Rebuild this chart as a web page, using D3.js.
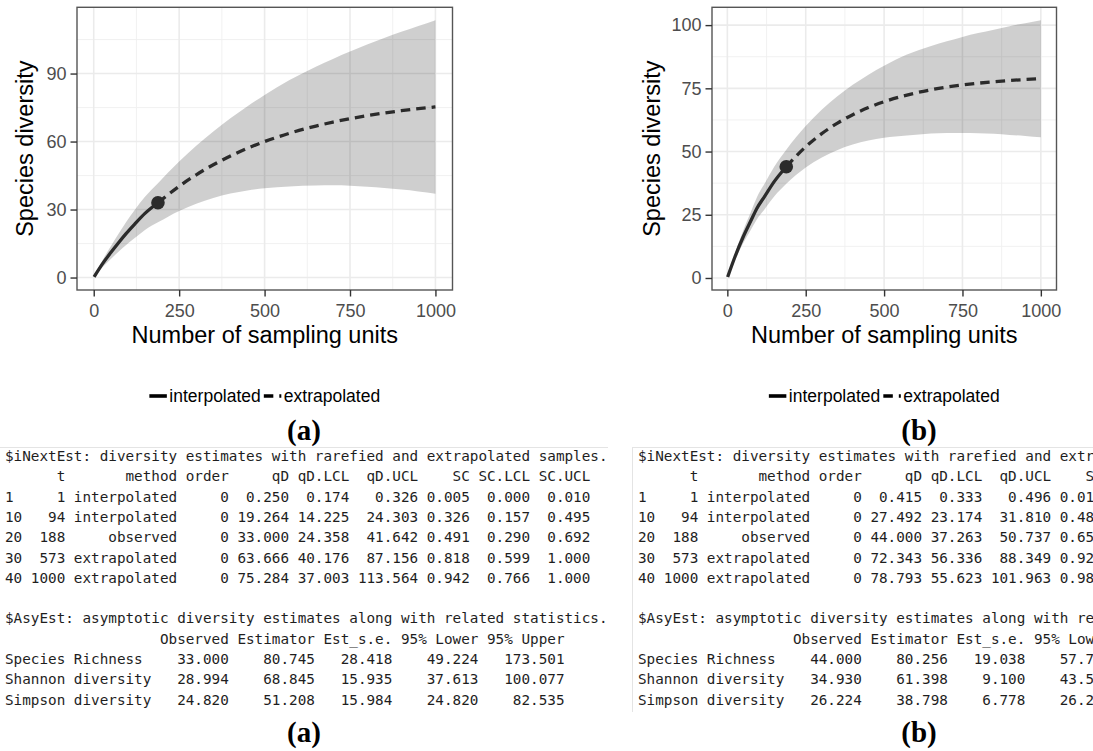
<!DOCTYPE html>
<html lang="en">
<head>
<meta charset="utf-8" />
<title>Species diversity: interpolated / extrapolated</title>
<script src="https://cdn.jsdelivr.net/npm/d3@7"></script>
<style>
  body { margin: 0; background: #fff; }
  svg text { font-family: "Liberation Sans", Arial, sans-serif; }
  .mono { font-family: "DejaVu Sans Mono", monospace; font-size: 14.3px; fill: #1e1e1e; white-space: pre; }
  .cap { font-family: "Liberation Serif", "Times New Roman", serif; font-weight: bold; font-size: 29px; fill: #000; }
</style>
</head>
<body>
<svg id="fig" width="1093" height="751"></svg>
<script>
const tVals = [1, 25, 50, 75, 94, 120, 150, 188, 250, 300, 350, 400, 450, 500, 573, 650, 700, 750, 800, 850, 900, 950, 1000];
const obsT = 188;

// (a)
const qdA  = [0.25, 5.9, 11.0, 15.8, 19.26, 23.6, 28.3, 33.0, 40.28, 45.34, 49.76, 53.63, 57.02, 59.99, 63.67, 66.84, 68.57, 70.10, 71.43, 72.59, 73.61, 74.50, 75.28];
const lclA = [0.17, 4.4, 8.2, 11.7, 14.22, 17.4, 21.0, 24.36, 29.38, 32.54, 35.06, 37.03, 38.42, 39.39, 40.18, 40.64, 40.67, 40.50, 40.03, 39.49, 38.81, 38.00, 37.00];
const uclA = [0.33, 7.4, 13.8, 19.9, 24.30, 29.8, 35.6, 41.64, 51.18, 58.14, 64.46, 70.23, 75.62, 80.59, 87.16, 93.04, 96.47, 99.70, 102.83, 105.69, 108.41, 111.00, 113.56];

// (b)
const qdB  = [0.415, 8.6, 16.1, 22.6, 27.49, 32.5, 38.2, 44.0, 51.88, 56.98, 61.15, 64.58, 67.39, 69.70, 72.34, 74.42, 75.47, 76.33, 77.03, 77.61, 78.09, 78.48, 78.79];
const lclB = [0.33, 7.2, 13.6, 19.1, 23.17, 27.4, 32.3, 37.26, 43.68, 47.58, 50.55, 52.78, 54.39, 55.50, 56.34, 57.12, 57.37, 57.33, 57.23, 57.01, 56.59, 56.18, 55.62];
const uclB = [0.50, 10.0, 18.6, 26.1, 31.81, 37.6, 44.1, 50.74, 60.08, 66.38, 71.75, 76.38, 80.39, 83.90, 88.34, 91.72, 93.57, 95.33, 96.83, 98.21, 99.59, 100.78, 101.96];

const xTicks = [0, 250, 500, 750, 1000];
const yTicksA = [0, 30, 60, 90];
const yTicksB = [0, 25, 50, 75, 100];
const legendLabels = ["interpolated", "extrapolated"];
const xTitle = "Number of sampling units";
const yTitle = "Species diversity";

// R console output shown under each plot
const tableA = [
  "$iNextEst: diversity estimates with rarefied and extrapolated samples.",
  "      t       method order     qD qD.LCL  qD.UCL    SC SC.LCL SC.UCL",
  "1     1 interpolated     0  0.250  0.174   0.326 0.005  0.000  0.010",
  "10   94 interpolated     0 19.264 14.225  24.303 0.326  0.157  0.495",
  "20  188     observed     0 33.000 24.358  41.642 0.491  0.290  0.692",
  "30  573 extrapolated     0 63.666 40.176  87.156 0.818  0.599  1.000",
  "40 1000 extrapolated     0 75.284 37.003 113.564 0.942  0.766  1.000",
  "",
  "$AsyEst: asymptotic diversity estimates along with related statistics.",
  "                  Observed Estimator Est_s.e. 95% Lower 95% Upper",
  "Species Richness    33.000    80.745   28.418    49.224   173.501",
  "Shannon diversity   28.994    68.845   15.935    37.613   100.077",
  "Simpson diversity   24.820    51.208   15.984    24.820    82.535"
];
const tableB = [
  "$iNextEst: diversity estimates with rarefied and extrapolated samples.",
  "      t       method order     qD qD.LCL  qD.UCL    SC SC.LCL SC.UCL",
  "1     1 interpolated     0  0.415  0.333   0.496 0.01",
  "10   94 interpolated     0 27.492 23.174  31.810 0.48",
  "20  188     observed     0 44.000 37.263  50.737 0.65",
  "30  573 extrapolated     0 72.343 56.336  88.349 0.92",
  "40 1000 extrapolated     0 78.793 55.623 101.963 0.98",
  "",
  "$AsyEst: asymptotic diversity estimates along with related statistics.",
  "                  Observed Estimator Est_s.e. 95% Lower 95% Upper",
  "Species Richness    44.000    80.256   19.038    57.7",
  "Shannon diversity   34.930    61.398    9.100    43.5",
  "Simpson diversity   26.224    38.798    6.778    26.2"
];

const svg = d3.select("#fig");
const lineCol = "#2b2b2b";
const dash = "9.5,6";

function minorTicks(major, lo, hi) {
  const step = major[1] - major[0];
  const out = [];
  for (let v = major[0] - step / 2; v <= hi; v += step) if (v >= lo) out.push(v);
  return out;
}

function drawPanel(left, right, qd, lcl, ucl, yTicks, yTitleX) {
  const top = 7.3, bottom = 290;
  const tExt = d3.extent(tVals);
  const yLo = d3.min(lcl), yHi = d3.max(ucl);
  const padX = (tExt[1] - tExt[0]) * 0.05, padY = (yHi - yLo) * 0.05;
  const x = d3.scaleLinear().domain([tExt[0] - padX, tExt[1] + padX]).range([left, right]);
  const y = d3.scaleLinear().domain([yLo - padY, yHi + padY]).range([bottom, top]);
  const g = svg.append("g");

  // grid
  const xd = x.domain(), yd = y.domain();
  g.selectAll(".gxm").data(minorTicks(xTicks, xd[0], xd[1])).join("line")
    .attr("x1", d => x(d)).attr("x2", d => x(d)).attr("y1", top).attr("y2", bottom)
    .attr("stroke", "#efefef").attr("stroke-width", 0.9);
  g.selectAll(".gym").data(minorTicks(yTicks, yd[0], yd[1])).join("line")
    .attr("y1", d => y(d)).attr("y2", d => y(d)).attr("x1", left).attr("x2", right)
    .attr("stroke", "#efefef").attr("stroke-width", 0.9);
  g.selectAll(".gx").data(xTicks).join("line")
    .attr("x1", d => x(d)).attr("x2", d => x(d)).attr("y1", top).attr("y2", bottom)
    .attr("stroke", "#ebebeb").attr("stroke-width", 1.6);
  g.selectAll(".gy").data(yTicks).join("line")
    .attr("y1", d => y(d)).attr("y2", d => y(d)).attr("x1", left).attr("x2", right)
    .attr("stroke", "#ebebeb").attr("stroke-width", 1.6);

  const pts = tVals.map((t, i) => ({ t, q: qd[i], lo: lcl[i], hi: ucl[i] }));

  // confidence band
  g.append("path").datum(pts)
    .attr("d", d3.area().curve(d3.curveMonotoneX).x(d => x(d.t)).y0(d => y(d.lo)).y1(d => y(d.hi)))
    .attr("fill", "#000").attr("fill-opacity", 0.19);

  const ln = d3.line().curve(d3.curveMonotoneX).x(d => x(d.t)).y(d => y(d.q));
  g.append("path").datum(pts.filter(d => d.t <= obsT)).attr("d", ln)
    .attr("fill", "none").attr("stroke", lineCol).attr("stroke-width", 3.3);
  g.append("path").datum(pts.filter(d => d.t >= obsT)).attr("d", ln)
    .attr("fill", "none").attr("stroke", lineCol).attr("stroke-width", 3.3).attr("stroke-dasharray", dash);

  const obs = pts.find(d => d.t === obsT);
  g.append("circle").attr("cx", x(obs.t)).attr("cy", y(obs.q)).attr("r", 6.8).attr("fill", lineCol);

  g.append("rect").attr("x", left).attr("y", top).attr("width", right - left).attr("height", bottom - top)
    .attr("fill", "none").attr("stroke", "#555").attr("stroke-width", 1.4);

  // axes
  const ax = g.append("g").attr("transform", `translate(0,${bottom})`)
    .call(d3.axisBottom(x).tickValues(xTicks).tickFormat(d3.format("d")).tickSize(6.5).tickPadding(8));
  const ay = g.append("g").attr("transform", `translate(${left},0)`)
    .call(d3.axisLeft(y).tickValues(yTicks).tickFormat(d3.format("d")).tickSize(6.5).tickPadding(4));
  [ax, ay].forEach(a => {
    a.select(".domain").remove();
    a.selectAll(".tick line").attr("stroke", "#333").attr("stroke-width", 1.4);
    a.selectAll(".tick text").attr("fill", "#4d4d4d").style("font-size", "18px")
      .style("font-family", '"Liberation Sans", Arial, sans-serif');
  });

  const cx = (left + right) / 2;
  g.append("text").attr("x", cx).attr("y", 343).attr("text-anchor", "middle")
    .style("font-size", "23.5px").attr("fill", "#000").text(xTitle);
  g.append("text").attr("transform", `translate(${yTitleX},${(top + bottom) / 2}) rotate(-90)`)
    .attr("text-anchor", "middle").attr("dy", "0.35em")
    .style("font-size", "23.5px").attr("fill", "#000").text(yTitle);

  // legend
  const lg = g.append("g");
  const keyW = 17.5;
  let cur = 0;
  legendLabels.forEach((lab, i) => {
    lg.append("line").attr("x1", cur).attr("x2", cur + keyW).attr("y1", 396).attr("y2", 396)
      .attr("stroke", "#000").attr("stroke-width", 3.6)
      .attr("stroke-dasharray", i === 0 ? null : dash);
    cur += keyW + 2.5;
    const tx = lg.append("text").attr("x", cur).attr("y", 402).style("font-size", "17.5px")
      .attr("fill", "#000").text(lab);
    cur += tx.node().getComputedTextLength() + 3;
  });
  const bb = lg.node().getBBox();
  lg.attr("transform", `translate(${cx - bb.x - bb.width / 2},0)`);
}

drawPanel(77, 452.5, qdA, lclA, uclA, yTicksA, 25);
drawPanel(712, 1056.5, qdB, lclB, uclB, yTicksB, 651.7);

// captions
const caps = [["(a)", 304, 440], ["(b)", 919, 440], ["(a)", 304, 742], ["(b)", 919, 742]];
svg.selectAll(".cap").data(caps).join("text").attr("class", "cap")
  .attr("x", d => d[1]).attr("y", d => d[2]).attr("text-anchor", "middle").text(d => d[0]);

// console output boxes
svg.append("line").attr("x1", 0).attr("x2", 608).attr("y1", 447.5).attr("y2", 447.5).attr("stroke", "#e4e4e4");
svg.append("line").attr("x1", 632).attr("x2", 1093).attr("y1", 447.5).attr("y2", 447.5).attr("stroke", "#e4e4e4");
svg.append("line").attr("x1", 632.5).attr("x2", 632.5).attr("y1", 447.5).attr("y2", 712).attr("stroke", "#e4e4e4");

function drawTable(lines, x0) {
  svg.append("g").selectAll("text").data(lines).join("text").attr("class", "mono")
    .attr("x", x0).attr("y", (d, i) => 461 + i * 20.3).text(d => d);
}
drawTable(tableA, 5);
drawTable(tableB, 638);
</script>
</body>
</html>
